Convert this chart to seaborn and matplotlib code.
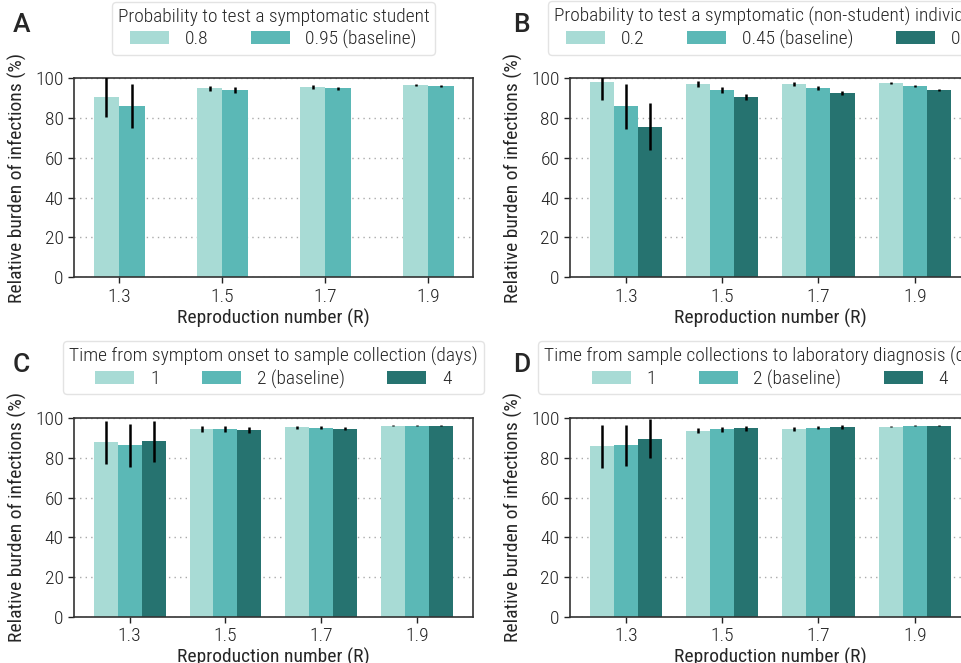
import numpy as np
import pandas as pd
import matplotlib.pyplot as plt
import seaborn as sns
from matplotlib import font_manager

# reproduction numbers on the x axis
R_values = ["1.3", "1.5", "1.7", "1.9"]

# A - probability to test a symptomatic student
a_title = "Probability to test a symptomatic student"
a_levels = ["0.8", "0.95 (baseline)"]
a_means = [[90.7, 95.0, 95.6, 96.5],
           [86.2, 94.0, 95.0, 96.0]]
a_errs = [[10.4, 1.2, 0.8, 0.5],
          [11.0, 1.5, 0.8, 0.5]]

# B - probability to test a symptomatic non-student
b_title = "Probability to test a symptomatic (non-student) individual"
b_levels = ["0.2", "0.45 (baseline)", "0.7"]
b_means = [[98.2, 97.0, 97.0, 97.5],
           [86.0, 94.0, 95.0, 96.0],
           [75.7, 90.5, 92.5, 94.0]]
b_errs = [[9.2, 1.5, 1.0, 0.5],
          [11.3, 1.5, 1.0, 0.5],
          [12.0, 1.5, 1.0, 0.5]]

# C - symptom onset to sample collection
c_title = "Time from symptom onset to sample collection (days)"
c_levels = ["1", "2 (baseline)", "4"]
c_means = [[87.7, 94.3, 95.3, 96.2],
           [86.2, 94.3, 95.2, 96.2],
           [88.2, 93.8, 94.7, 96.2]]
c_errs = [[10.7, 1.5, 0.8, 0.4],
          [10.6, 1.5, 0.8, 0.4],
          [10.5, 1.5, 0.8, 0.4]]

# D - sample collection to lab diagnosis
d_title = "Time from sample collections to laboratory diagnosis (days)"
d_levels = ["1", "2 (baseline)", "4"]
d_means = [[85.8, 93.7, 94.7, 95.7],
           [86.2, 94.3, 95.2, 96.2],
           [89.7, 94.8, 95.7, 96.2]]
d_errs = [[10.9, 1.3, 1.0, 0.4],
          [10.4, 1.4, 0.8, 0.4],
          [10.0, 1.3, 1.0, 0.4]]

colors = ["#a8dbd5", "#5bb8b6", "#267370"]

sns.set_theme(style="ticks")

# condensed font if there is one, otherwise plain Roboto a bit smaller
names = {f.name for f in font_manager.fontManager.ttflist}
if "Roboto Condensed" in names:
    fam, fs = "Roboto Condensed", 14
elif "Liberation Sans Narrow" in names:
    fam, fs = "Liberation Sans Narrow", 14
else:
    fam, fs = "Roboto", 11.5
plt.rcParams['font.family'] = [fam, 'DejaVu Sans']
plt.rcParams['font.weight'] = 'light'
plt.rcParams['axes.edgecolor'] = '#333333'
plt.rcParams['axes.linewidth'] = 1.2

fig = plt.figure(figsize=(9.61, 6.63), dpi=100)

panels = [
    ("A", a_title, a_levels, a_means, a_errs, [0.077, 0.582, 0.415, 0.300], (-0.44, 3.43)),
    ("B", b_title, b_levels, b_means, b_errs, [0.593, 0.582, 0.417, 0.300], (-0.58, 3.58)),
    ("C", c_title, c_levels, c_means, c_errs, [0.077, 0.0695, 0.415, 0.300], (-0.58, 3.58)),
    ("D", d_title, d_levels, d_means, d_errs, [0.593, 0.0695, 0.417, 0.300], (-0.58, 3.58)),
]

for letter, title, levels, means, errs, pos, xlim in panels:
    ax = fig.add_axes(pos)
    rows = []
    for lev, m in zip(levels, means):
        for r, v in zip(R_values, m):
            rows.append({"R": r, "level": lev, "value": v})
    df = pd.DataFrame(rows)
    n = len(levels)
    sns.barplot(data=df, x="R", y="value", hue="level", hue_order=levels,
                palette=colors[:n], width=0.25 * n, errorbar=None,
                saturation=1, linewidth=0, ax=ax)

    # error bars on top of each bar
    for cont, e in zip(ax.containers, errs):
        xs = [b.get_x() + b.get_width() / 2 for b in cont]
        ys = [b.get_height() for b in cont]
        ax.errorbar(xs, ys, yerr=e, fmt="none", ecolor="black", elinewidth=1.8,
                    capsize=0, zorder=5)

    ax.set_ylim(0, 100)
    ax.set_xlim(*xlim)
    ax.set_yticks([0, 20, 40, 60, 80, 100])
    ax.yaxis.grid(True, linestyle=(0, (1, 3)), color="#aaaaaa", linewidth=1)
    ax.set_axisbelow(True)
    for s in ax.spines.values():
        s.set_visible(True)
    ax.tick_params(labelsize=fs, length=4, width=1, colors="#222222")
    ax.set_xlabel("Reproduction number (R)", fontsize=fs, labelpad=2)
    ax.set_ylabel("Relative burden of infections (%)", fontsize=fs, labelpad=6)

    sns.move_legend(ax, "lower center", bbox_to_anchor=(0.5, 1.07), ncol=n,
                    title=title, fontsize=fs, title_fontsize=fs, frameon=True,
                    handlelength=2.0, handleheight=0.7, columnspacing=2.2,
                    borderpad=0.3, labelspacing=0.2, handletextpad=0.8)
    leg = ax.get_legend()
    leg.get_frame().set_edgecolor("#dddddd")
    leg.get_frame().set_linewidth(1.0)

    fig.text(pos[0] - 0.064 + (0.005 if letter in "BD" else 0), pos[1] + pos[3] + 0.062,
             letter, fontsize=19, family="Roboto", fontweight="medium",
             ha="left", va="bottom")

fig.savefig("out.png", dpi=100)
